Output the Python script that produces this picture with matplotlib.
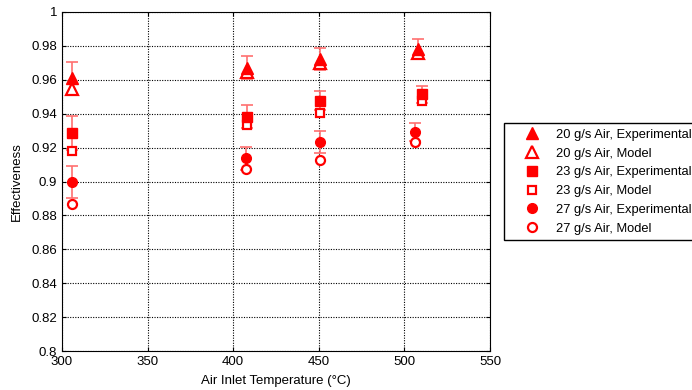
import matplotlib
matplotlib.use("Agg")
import matplotlib.pyplot as plt
from matplotlib.ticker import FuncFormatter, MultipleLocator

plt.rcParams["font.family"] = ["Liberation Sans", "DejaVu Sans"]

# Air inlet temperatures (deg C) for each series
temp_tri = [305.8, 408.0, 450.7, 508.1]
temp_sq = [305.8, 408.3, 450.9, 510.1]
temp_circ = [305.8, 407.7, 450.5, 506.2]

# Effectiveness, experimental and model
exp_20 = [0.961, 0.967, 0.972, 0.978]
err_20 = [0.0095, 0.0068, 0.0065, 0.0059]
model_20 = [0.9546, 0.9648, 0.9697, 0.9756]

exp_23 = [0.9286, 0.9382, 0.9477, 0.9514]
err_23 = [0.0100, 0.0068, 0.0057, 0.0049]
model_23 = [0.918, 0.9333, 0.9406, 0.9477]

exp_27 = [0.8997, 0.9137, 0.9233, 0.9294]
err_27 = [0.0093, 0.0067, 0.0063, 0.0053]
model_27 = [0.887, 0.9072, 0.9125, 0.9235]

labels = [
    "20 g/s Air, Experimental", "20 g/s Air, Model",
    "23 g/s Air, Experimental", "23 g/s Air, Model",
    "27 g/s Air, Experimental", "27 g/s Air, Model",
]

RED = "#ff0000"
ERR = "#ff7070"

fig = plt.figure(figsize=(6.92, 3.90), dpi=100)
ax = fig.add_axes([62 / 692, 1 - 351 / 390, 428 / 692, 339 / 390])

series = [
    (temp_tri, exp_20, err_20, model_20, "^", 8.5),
    (temp_sq, exp_23, err_23, model_23, "s", 6.5),
    (temp_circ, exp_27, err_27, model_27, "o", 7),
]

handles = []
for t, e, err, m, mk, ms in series:
    ax.errorbar(t, e, yerr=err, fmt="none", ecolor=ERR, elinewidth=1.2,
                capsize=4, capthick=1.2, zorder=2)
    h1, = ax.plot(t, e, linestyle="none", marker=mk, ms=ms, color=RED,
                  mec=RED, zorder=4)
    h2, = ax.plot(t, m, linestyle="none", marker=mk, ms=ms - 0.5,
                  mfc="white", mec=RED, mew=1.6, zorder=3)
    handles += [h1, h2]

ax.set_xlim(300, 550)
ax.set_ylim(0.8, 1.0)
ax.xaxis.set_major_locator(MultipleLocator(50))
ax.yaxis.set_major_locator(MultipleLocator(0.02))
ax.yaxis.set_major_formatter(FuncFormatter(lambda v, p: f"{v:g}"))

ax.grid(True, color="black", linestyle=(0, (1, 1.3)), linewidth=0.8)
ax.tick_params(direction="in", length=3, labelsize=9.5, top=True, right=True,
               width=0.8)
for s in ax.spines.values():
    s.set_linewidth(0.8)

ax.set_xlabel("Air Inlet Temperature (°C)", fontsize=9.5, labelpad=5)
ax.set_ylabel("Effectiveness", fontsize=9.5, labelpad=6)

# legend sits to the right of the axes and runs past the figure edge
fig.legend(handles, labels, loc="upper left",
           bbox_to_anchor=(504 / 692, 1 - 123 / 390), borderaxespad=0,
           fontsize=9.3, frameon=True, fancybox=False, edgecolor="black",
           framealpha=1, borderpad=0.45, labelspacing=0.52,
           handlelength=3.4, handletextpad=0.15)

fig.savefig("out.png", dpi=100)
